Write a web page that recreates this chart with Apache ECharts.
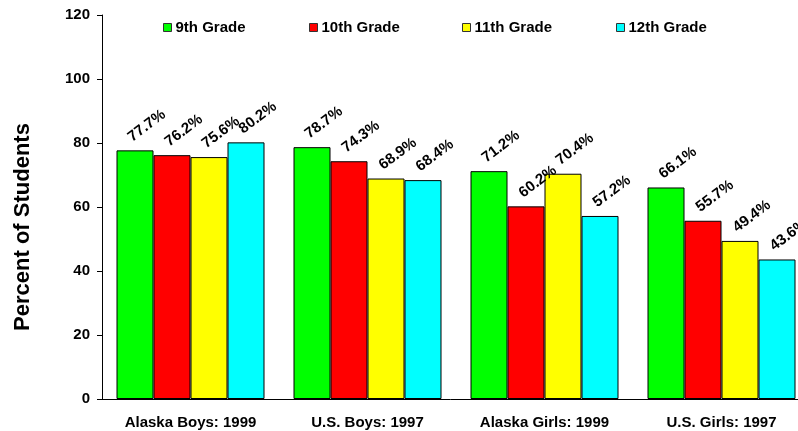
<!DOCTYPE html>
<html>
<head>
<meta charset="utf-8">
<script src="https://cdn.jsdelivr.net/npm/echarts@6/dist/echarts.min.js"></script>
<style>html,body{margin:0;padding:0;background:#fff}#c{width:798px;height:431px}</style>
</head>
<body>
<div id="c"></div>
<script>
const categories = ['Alaska Boys: 1999', 'U.S. Boys: 1997', 'Alaska Girls: 1999', 'U.S. Girls: 1997'];
const seriesNames = ['9th Grade', '10th Grade', '11th Grade', '12th Grade'];
const grade9 = [77.7, 78.7, 71.2, 66.1];
const grade10 = [76.2, 74.3, 60.2, 55.7];
const grade11 = [75.6, 68.9, 70.4, 49.4];
const grade12 = [80.2, 68.4, 57.2, 43.6];
const yTicks = [0, 20, 40, 60, 80, 100, 120];
const yTitle = 'Percent of Students';
const colors = ['#00FF00', '#FF0000', '#FFFF00', '#00FFFF'];

const FONT = "'Liberation Sans', Arial, sans-serif";
const values = [grade9, grade10, grade11, grade12];
const legendLefts = [163, 309, 462, 616];

const chart = echarts.init(document.getElementById('c'), null, {renderer: 'canvas'});
chart.setOption({
  animation: false,
  backgroundColor: '#fff',
  textStyle: {fontFamily: FONT},
  grid: {left: 102, top: 15, width: 708, height: 384, containLabel: false, outerBoundsMode: 'none'},
  legend: seriesNames.map((n, i) => ({
    data: [n], left: legendLefts[i], top: 20, padding: 0, icon: 'rect',
    itemWidth: 8, itemHeight: 8, itemGap: 6,
    textStyle: {fontFamily: FONT, fontWeight: 'bold', fontSize: 15, color: '#000', padding: [0,0,0,-1]},
    itemStyle: {borderColor: '#333', borderWidth: 1}
  })),
  graphic: [{
    type: 'text', x: 23, y: 227, rotation: Math.PI / 2,
    style: {text: yTitle, fontFamily: FONT, fontWeight: 'bold', fontSize: 22, fill: '#000',
      align: 'center', verticalAlign: 'middle'}
  }],
  xAxis: {
    type: 'category', data: categories,
    axisLine: {lineStyle: {color: '#000', width: 1}},
    axisTick: {show: false},
    axisLabel: {fontFamily: FONT, fontWeight: 'bold', fontSize: 15, color: '#000', margin: 16}
  },
  yAxis: {
    type: 'value', min: yTicks[0], max: yTicks[yTicks.length - 1], interval: 20,
    axisLine: {show: true, lineStyle: {color: '#000', width: 1}},
    axisTick: {show: true, length: 5, lineStyle: {color: '#000'}},
    splitLine: {show: false},
    axisLabel: {fontFamily: FONT, fontWeight: 'bold', fontSize: 15, color: '#000', margin: 12}
  },
  series: seriesNames.map((n, i) => ({
    name: n, type: 'bar', data: values[i],
    barWidth: 37, barGap: '0%', barCategoryGap: '16%',
    itemStyle: {color: colors[i], borderColor: '#000', borderWidth: 1},
    label: {
      show: true, position: 'top', distance: 0, rotate: 37,
      align: 'left', verticalAlign: 'bottom', offset: [3, -5],
      formatter: p => p.value.toFixed(1) + '%',
      fontFamily: FONT, fontWeight: 'bold', fontSize: 15, color: '#000'
    }
  }))
});
</script>
</body>
</html>
